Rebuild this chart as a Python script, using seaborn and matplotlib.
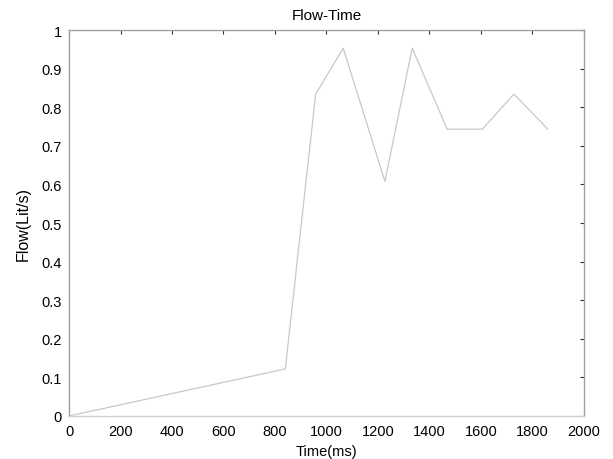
import pandas as pd
import matplotlib
matplotlib.use("Agg")
import matplotlib.pyplot as plt
import seaborn as sns

# Values
time_ms = [0, 840, 958, 1065, 1227, 1333, 1469, 1605, 1728, 1860]
flow = [0.0, 0.122, 0.834, 0.953, 0.608, 0.953, 0.743, 0.743, 0.834, 0.743]
x_ticks = [0, 200, 400, 600, 800, 1000, 1200, 1400, 1600, 1800, 2000]
y_ticks = [0, 0.1, 0.2, 0.3, 0.4, 0.5, 0.6, 0.7, 0.8, 0.9, 1]
y_labels = ["0", "0.1", "0.2", "0.3", "0.4", "0.5", "0.6", "0.7", "0.8", "0.9", "1"]

df = pd.DataFrame({"Time(ms)": time_ms, "Flow(Lit/s)": flow})

sns.set_style("white")
plt.rcParams["font.family"] = ["Liberation Sans", "DejaVu Sans"]

fig = plt.figure(figsize=(6.13, 4.6), dpi=100)
ax = fig.add_axes([0.1126, 0.0935, 0.84, 0.839])

sns.lineplot(data=df, x="Time(ms)", y="Flow(Lit/s)", ax=ax, color="#c8c8c8", linewidth=0.9)

ax.set_xlim(0, 2000)
ax.set_ylim(0, 1)
ax.set_xticks(x_ticks)
ax.set_yticks(y_ticks)
ax.set_yticklabels(y_labels)
ax.tick_params(direction="in", length=3, width=0.8, color="#333333",
               top=True, right=True, labelsize=10.5, labelcolor="black")
ax.tick_params(axis="x", pad=6)
ax.tick_params(axis="y", pad=5)
for side in ["left", "top", "right"]:
    ax.spines[side].set_color("#a0a0a0")
ax.spines["bottom"].set_color("#d0d0d0")
for s in ax.spines.values():
    s.set_linewidth(1.0)

ax.set_xlabel("Time(ms)", fontsize=10.5, labelpad=4, color="black")
ax.set_ylabel("Flow(Lit/s)", fontsize=11.5, labelpad=8, color="black")
ax.set_title("Flow-Time", fontsize=11, pad=8, color="black")

fig.savefig("out.png", dpi=100)
